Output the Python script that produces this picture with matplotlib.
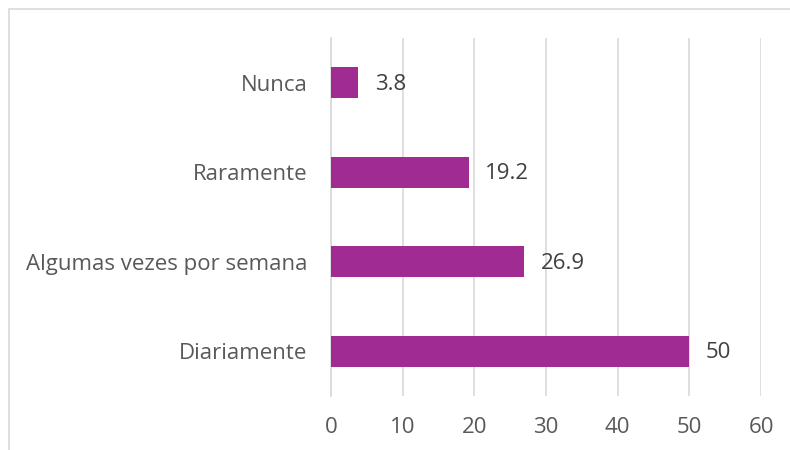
import matplotlib.pyplot as plt
from matplotlib.patches import Rectangle

categories = ["Diariamente", "Algumas vezes por semana", "Raramente", "Nunca"]
values = [50, 26.9, 19.2, 3.8]
value_labels = ["50", "26.9", "19.2", "3.8"]
ticks = [0, 10, 20, 30, 40, 50, 60]

plt.rcParams['font.family'] = ['Open Sans', 'DejaVu Sans']
text_color = '#595959'

fig = plt.figure(figsize=(7.9, 4.5), dpi=100)
ax = fig.add_axes([331 / 790, 1 - 396 / 450, 430 / 790, 358 / 450])

# chart frame (cropped on the right and bottom)
fig.patches.append(Rectangle((9 / 790, -0.1), 1.2, 1 - 9 / 450 + 0.1,
                             transform=fig.transFigure, fill=False,
                             edgecolor='#d9d9d9', linewidth=1.2))

pos = range(len(categories))
ax.barh(pos, values, height=0.35, color='#A02B93', zorder=3)
for p, v, lab in zip(pos, values, value_labels):
    ax.annotate(lab, (v, p), xytext=(12, -1), textcoords='offset points',
                va='center', ha='left', fontsize=16, color='#404040')

ax.set_xlim(0, 60)
ax.set_ylim(-0.5, 3.5)
ax.set_xticks(ticks)
ax.set_yticks(list(pos))
ax.set_yticklabels(categories)
ax.tick_params(axis='both', length=0, labelsize=16, labelcolor=text_color)
ax.tick_params(axis='y', pad=17)
ax.tick_params(axis='x', pad=15)
ax.grid(axis='x', color='#d9d9d9', linewidth=1.2, zorder=0)
for s in ['top', 'right', 'bottom']:
    ax.spines[s].set_visible(False)
ax.spines['left'].set_color('#d9d9d9')
ax.spines['left'].set_linewidth(1.2)

fig.savefig('out.png', dpi=100)
